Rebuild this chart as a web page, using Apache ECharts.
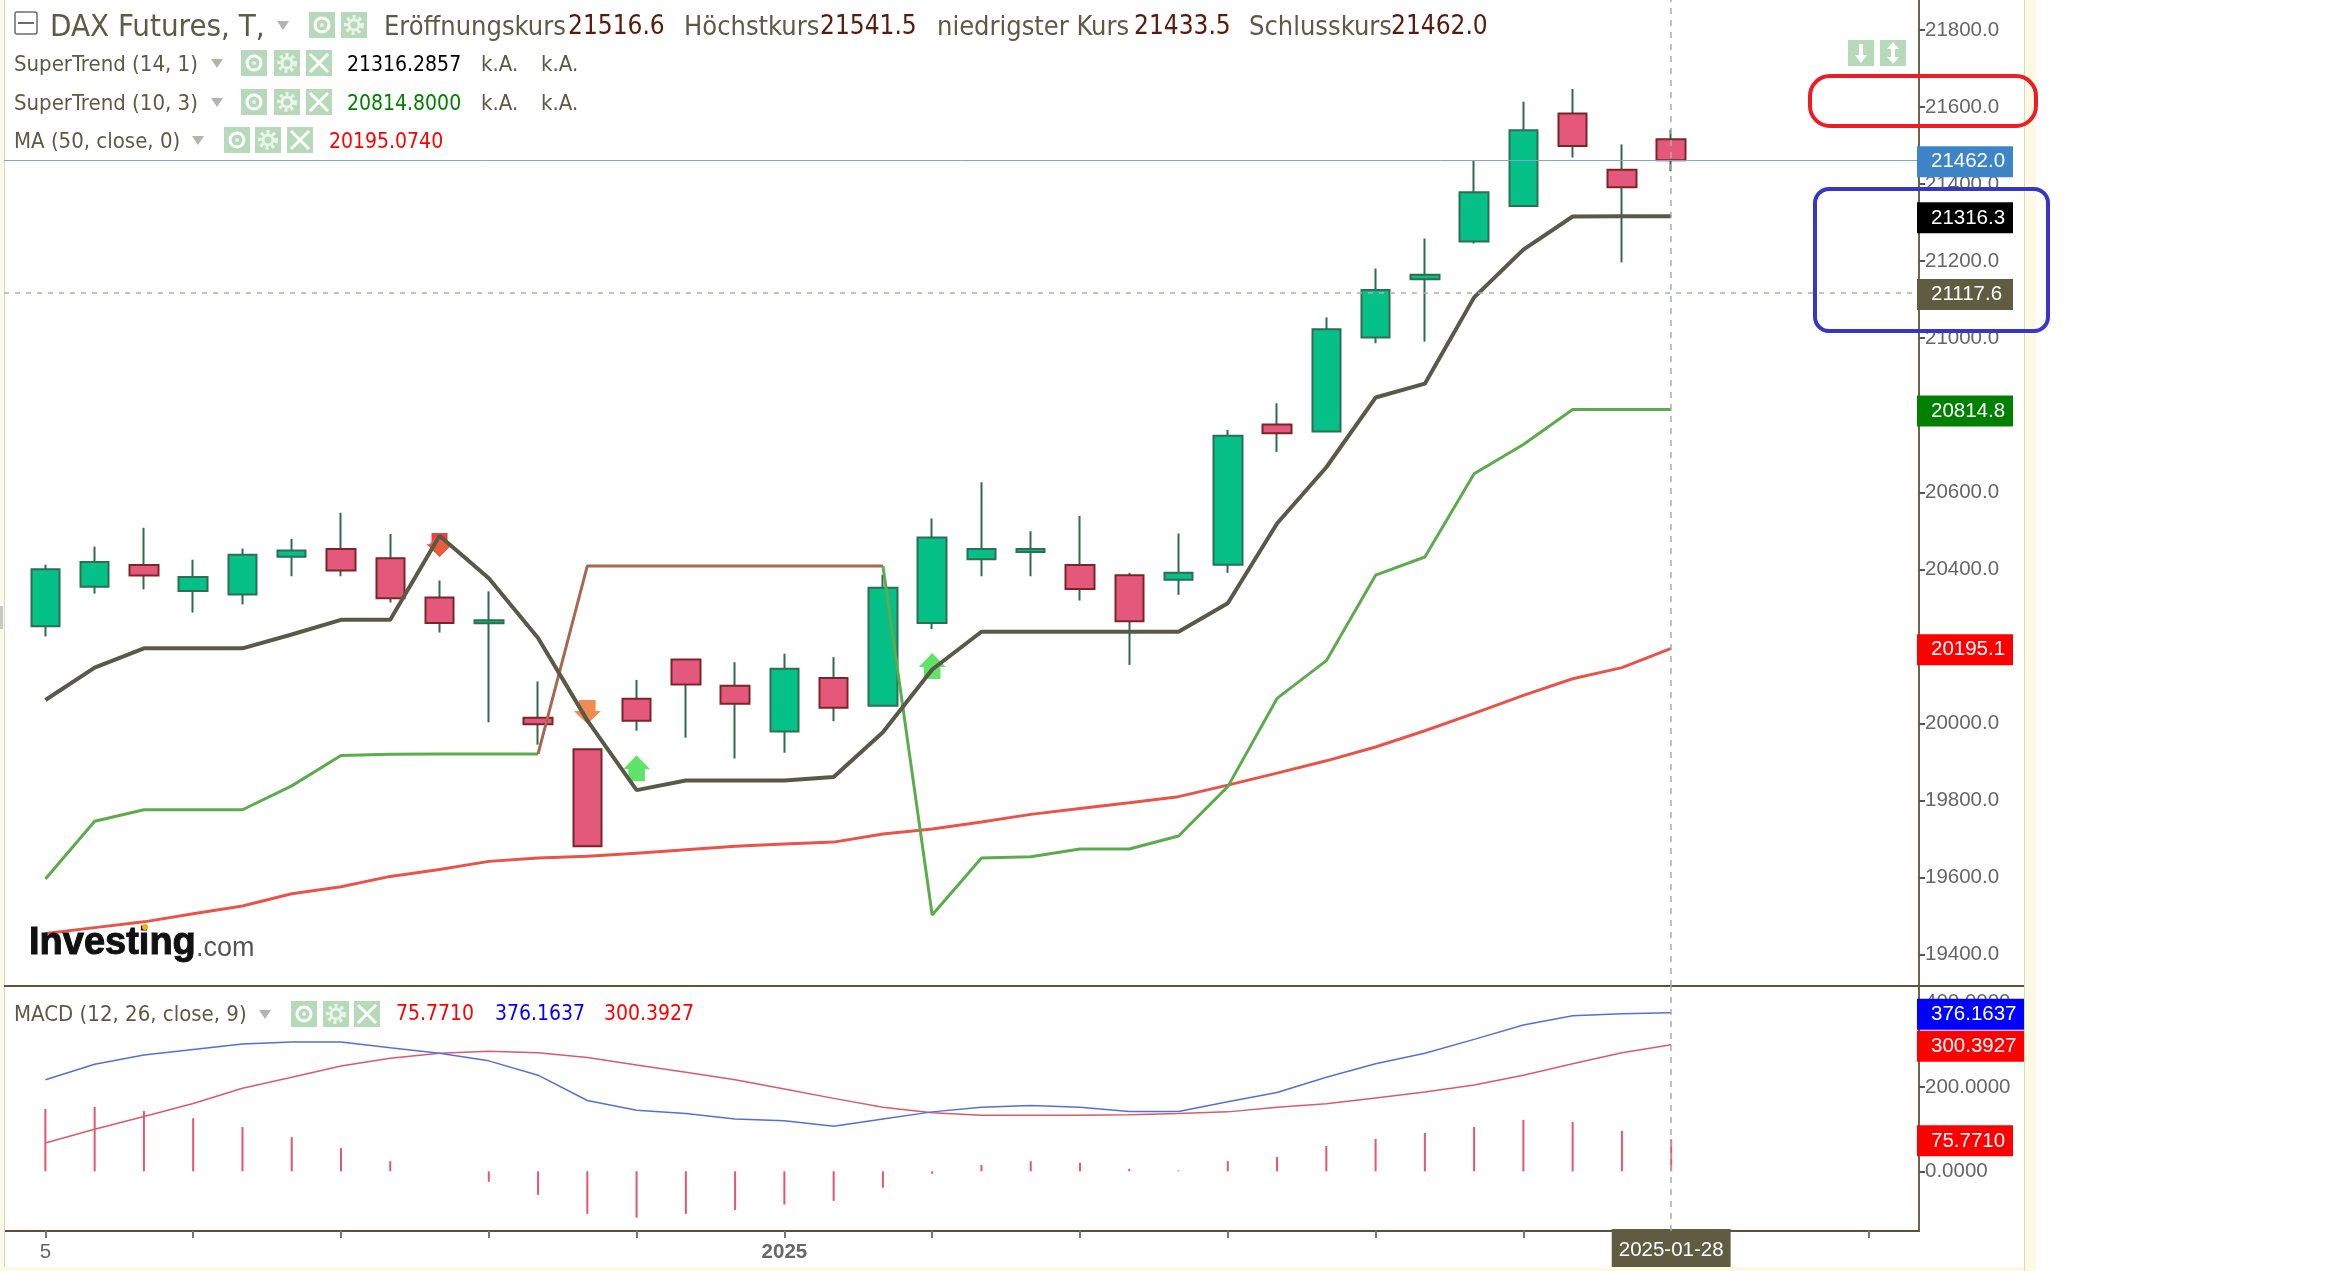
<!DOCTYPE html>
<html>
<head>
<meta charset="utf-8">
<title>DAX Futures</title>
<script src="https://cdn.jsdelivr.net/npm/echarts@6/dist/echarts.min.js"></script>
<style>
html, body { margin: 0; padding: 0; background: #fff; }
#chart { width: 2344px; height: 1271px; }
</style>
</head>
<body>
<div id="chart"></div>
<script>
// candles: open, close, low, high
var ohlc = [
    [20252, 20400, 20226, 20412], [20355, 20419, 20337, 20459], [20411, 20384, 20348, 20508],
    [20344, 20380, 20288, 20425], [20335, 20438, 20309, 20454], [20433, 20449, 20382, 20479],
    [20453, 20397, 20382, 20547], [20429, 20325, 20314, 20492], [20327, 20261, 20236, 20371],
    [20260, 20268, 20003, 20343], [20015, 19998, 19945, 20109], [19933, 19681, 19681, 19933],
    [20064, 20007, 19981, 20113], [20166, 20101, 19963, 20166], [20098, 20051, 19909, 20159],
    [19979, 20142, 19924, 20181], [20118, 20041, 20006, 20172], [20046, 20352, 20046, 20386],
    [20261, 20483, 20245, 20532], [20426, 20453, 20382, 20626], [20445, 20453, 20382, 20499],
    [20411, 20349, 20319, 20539], [20385, 20265, 20152, 20391], [20373, 20391, 20334, 20493],
    [20412, 20747, 20391, 20762], [20776, 20753, 20705, 20831], [20758, 21023, 20757, 21054],
    [21002, 21125, 20987, 21181], [21153, 21165, 20991, 21259], [21251, 21379, 21246, 21460],
    [21343, 21540, 21342, 21614], [21583, 21499, 21469, 21647], [21437, 21392, 21197, 21503],
    [21516.6, 21462, 21433.5, 21541.5]
];
var superTrend14 = [20061, 20145, 20195, 20195, 20195, 20231, 20269, 20269, 20487, 20377, 20222, 20008,
    19827, 19852, 19852, 19852, 19861, 19977, 20140, 20238, 20238, 20238, 20238, 20238,
    20312, 20519, 20665, 20846, 20882, 21106, 21230, 21316, 21316.3, 21316.3];
var superTrend10 = [19596, 19746, 19776, 19776, 19776, 19838, 19917, 19920, 19921, 19921, 19921, 20409,
    20409, 20409, 20409, 20409, 20409, 20409, 19503, 19651, 19654, 19674, 19674, 19708,
    19836, 20065, 20163, 20385, 20432, 20648, 20724, 20815, 20814.8, 20814.8];
var ma50 = [19455, 19470, 19485, 19506, 19526, 19558, 19576, 19603, 19621, 19642, 19651, 19655,
    19663, 19672, 19681, 19687, 19692, 19713, 19726, 19744, 19764, 19779, 19794, 19810,
    19840, 19871, 19903, 19939, 19981, 20026, 20073, 20116, 20145, 20195.1];
var macdLine = [217, 254, 276, 289, 302, 307, 307, 293, 280, 262, 228, 168, 145, 137, 124, 120, 107,
    124, 141, 152, 156, 152, 142, 142, 165, 187, 223, 255, 280, 313, 347, 369, 374, 376.16];
var signalLine = [67, 100, 130, 161, 197, 223, 250, 268, 280, 285, 281, 270, 252, 235, 217, 195, 173,
    152, 139, 133, 133, 133, 134, 137, 141, 152, 160, 174, 188, 205, 228, 255, 281, 300.39];
var histogram = [148, 153, 143, 126, 105, 81, 55, 24, 0, -25, -56, -101, -110, -101, -92, -79, -70,
    -39, -6, 15, 24, 20, 6, 2, 24, 34, 60, 77, 91, 105, 122, 117, 96, 75.77];

// signal markers
var arrowsRed = [[8, 20463]];
var arrowsOrange = [[11, 20030]];
var arrowsGreen = [[12, 19884], [18, 20149]];
var diamonds = [[8, 20463]];

// tick labels
var priceTicks = [19400, 19600, 19800, 20000, 20200, 20400, 20600, 20800, 21000, 21200, 21400, 21600, 21800];
var macdTicks = [0, 200, 400];
var dateTicks = [0, 3, 6, 9, 12, 15, 18, 21, 24, 27, 30, 33, 37];
var dateLabels = { 0: '5', 15: '2025', 33: '2025-01-28' };

// value tags on the axes
var lastPrice = 21462, crossPrice = 21117.6;
var priceTags = [lastPrice, 21316.3, crossPrice, 20814.8, 20195.1];
var priceTagColors = ['#3d85c6', '#000000', '#5f5c41', '#008000', '#ff0000'];
var macdTags = [376.1637, 300.3927, 75.771];
var macdTagColors = ['#0000ff', '#ff0000', '#ff0000'];

var FONT = '"DejaVu Sans Condensed", "DejaVu Sans", sans-serif';
var AXIS_FONT = '"Liberation Sans", sans-serif';
var INK = '#5d5a45';

function indexed(values) {
    return values.map(function (v, i) { return [i, v]; });
}

// SuperTrend (10, 3) is brown while the trend is down (candles 10 to 17)
var stGreenLeft = indexed(superTrend10).slice(0, 11);
var stBrown = indexed(superTrend10).slice(10, 18);
var stGreenRight = indexed(superTrend10).slice(17);

function tagRich(colors, width) {
    var rich = {};
    colors.forEach(function (c, i) {
        rich['t' + i] = { backgroundColor: c, color: '#fff', fontFamily: AXIS_FONT, fontSize: 20.5,
            lineHeight: 20, padding: [5, 10, 5, 14], width: width[i], align: 'left' };
    });
    return rich;
}

function lineSeries(name, data, color, width, xi, yi) {
    return { name: name, type: 'line', data: data, xAxisIndex: xi, yAxisIndex: yi, showSymbol: false, z: 4,
        lineStyle: { color: color, width: width }, itemStyle: { color: color } };
}

function markerSeries(name, data, path, w, h, color) {
    return { name: name, type: 'scatter', data: data, symbol: 'path://' + path, symbolSize: [w, h],
        itemStyle: { color: color, opacity: 0.9 }, z: 3.5, silent: true };
}

// ------------------------------
// header and decorations
// ------------------------------
var g = [];

function text(x, y, str, size, color, extra) {
    var style = { text: str, x: x, y: y + 2, fill: color, font: size + 'px ' + FONT, textVerticalAlign: 'middle' };
    for (var k in extra) { style[k] = extra[k]; }
    g.push({ type: 'text', z: 20, style: style });
}
function box(x, y, w, h, fill) {
    g.push({ type: 'rect', z: 1, shape: { x: x, y: y, width: w, height: h }, style: { fill: fill } });
}
function tri(x, y) {
    g.push({ type: 'polygon', z: 20, shape: { points: [[x - 6, y - 4], [x + 6, y - 4], [x, y + 5]] }, style: { fill: '#b4b4ac' } });
}
function icon(x, y, type) {
    var cx = x + 13, cy = y + 13, w = { stroke: '#fff', fill: 'none', lineWidth: 3 };
    g.push({ type: 'rect', z: 20, shape: { x: x, y: y, width: 26, height: 26 }, style: { fill: '#b6dab9' } });
    if (type === 'eye') {
        g.push({ type: 'circle', z: 21, shape: { cx: cx, cy: cy, r: 7 }, style: { stroke: '#fff', fill: 'none', lineWidth: 3 } });
        g.push({ type: 'circle', z: 21, shape: { cx: cx, cy: cy, r: 2 }, style: { fill: '#e8f4e8' } });
    } else if (type === 'gear') {
        g.push({ type: 'circle', z: 21, shape: { cx: cx, cy: cy, r: 8 }, style: { stroke: '#e9f4ea', fill: 'none', lineWidth: 4, lineDash: [3, 3] } });
        g.push({ type: 'circle', z: 21, shape: { cx: cx, cy: cy, r: 5 }, style: { stroke: '#e9f4ea', fill: 'none', lineWidth: 3 } });
    } else if (type === 'close') {
        g.push({ type: 'line', z: 21, shape: { x1: x + 4, y1: y + 4, x2: x + 22, y2: y + 22 }, style: w });
        g.push({ type: 'line', z: 21, shape: { x1: x + 22, y1: y + 4, x2: x + 4, y2: y + 22 }, style: w });
    } else if (type === 'down') {
        g.push({ type: 'polygon', z: 21, shape: { points: [[cx - 2, y + 4], [cx + 2, y + 4], [cx + 2, y + 15], [cx + 6, y + 15], [cx, y + 23], [cx - 6, y + 15], [cx - 2, y + 15]] }, style: { fill: '#fff' } });
    } else {
        g.push({ type: 'polygon', z: 21, shape: { points: [[cx, y + 2], [cx + 6, y + 9], [cx + 2, y + 9], [cx + 2, y + 17], [cx + 6, y + 17], [cx, y + 24], [cx - 6, y + 17], [cx - 2, y + 17], [cx - 2, y + 9], [cx - 6, y + 9]] }, style: { fill: '#fff' } });
    }
}

// page edges
box(0, 0, 4, 1271, '#fdfbe8');
box(4, 0, 1, 1271, '#c9dfc2');
box(0, 1267, 2025, 4, '#fdf9e3');
box(2025, 0, 11, 1271, '#fdf9e3');
box(2024, 0, 1, 1271, '#c9dfc2');
box(0, 606, 3, 23, '#c9c9c9');
box(4, 985, 2020, 2, '#5a5636');

// first row
g.push({ type: 'rect', z: 20, shape: { x: 15, y: 12, width: 22, height: 22, r: 2 }, style: { fill: 'none', stroke: '#6b6b6b', lineWidth: 1.5 } });
g.push({ type: 'line', z: 20, shape: { x1: 18, y1: 23, x2: 34, y2: 23 }, style: { stroke: '#6b6b6b', lineWidth: 2 } });
text(50, 25.5, 'DAX Futures, T,', 31, INK);
tri(283, 25);
icon(309, 12, 'eye'); icon(341, 12, 'gear');
var quote = [[384, 'Eröffnungskurs', 568, '21516.6'], [684, 'Höchstkurs', 820, '21541.5'],
    [937, 'niedrigster Kurs', 1134, '21433.5'], [1249, 'Schlusskurs', 1391, '21462.0']];
quote.forEach(function (q) {
    text(q[0], 25.5, q[1], 27, INK);
    text(q[2], 25.5, q[3], 26, '#5a1a0a');
});

// indicator rows
text(14, 63.5, 'SuperTrend (14, 1)', 22, INK); tri(217, 63);
icon(241, 50, 'eye'); icon(274, 50, 'gear'); icon(306, 50, 'close');
text(347, 63.5, '21316.2857', 21, '#000');
text(481, 63.5, 'k.A.', 22, INK); text(541, 63.5, 'k.A.', 22, INK);

text(14, 102.5, 'SuperTrend (10, 3)', 22, INK); tri(217, 102);
icon(241, 89, 'eye'); icon(274, 89, 'gear'); icon(306, 89, 'close');
text(347, 102.5, '20814.8000', 21, '#008000');
text(481, 102.5, 'k.A.', 22, INK); text(541, 102.5, 'k.A.', 22, INK);

text(14, 140.5, 'MA (50, close, 0)', 22, INK); tri(198, 140);
icon(224, 127, 'eye'); icon(255, 127, 'gear'); icon(287, 127, 'close');
text(329, 140.5, '20195.0740', 21, '#ff0000');

text(14, 1013, 'MACD (12, 26, close, 9)', 22, INK); tri(265, 1014);
icon(291, 1001, 'eye'); icon(323, 1001, 'gear'); icon(354, 1001, 'close');
text(396, 1013, '75.7710', 21, '#ff0000');
text(495, 1013, '376.1637', 21, '#0000ff');
text(604, 1013, '300.3927', 21, '#ff0000');

icon(1848, 40, 'down'); icon(1880, 40, 'updown');

// logo
text(29, 942, 'Investing', 38, '#111', { font: 'bold 38px "Liberation Sans", sans-serif', stroke: '#111', lineWidth: 1 });
text(196, 947, '.com', 27, '#555', { font: '27px "Liberation Sans", sans-serif' });
g.push({ type: 'circle', z: 21, shape: { cx: 145, cy: 927, r: 3 }, style: { fill: '#f0b400' } });

// hand drawn highlights
g.push({ type: 'rect', z: 30, shape: { x: 1810, y: 76, width: 226, height: 50, r: 20 }, style: { fill: 'none', stroke: '#ee1c25', lineWidth: 4 } });
g.push({ type: 'rect', z: 30, shape: { x: 1815, y: 189, width: 233, height: 142, r: 14 }, style: { fill: 'none', stroke: '#3636c8', lineWidth: 4 } });

// ------------------------------
// chart
// ------------------------------
var chart = echarts.init(document.getElementById('chart'));

var xMin = -0.84, xMax = 38.03;
var priceMin = 19318.5, priceMax = 21877.9;
var macdMin = -141.6, macdMax = 439.6;
var axisColor = '#6b6646';

var option = {
    animation: false,
    backgroundColor: '#fff',
    grid: [
        { left: 4, top: 0, width: 1915, height: 986 },
        { left: 4, top: 986, width: 1915, height: 245 }
    ],
    xAxis: [
        { type: 'value', gridIndex: 0, min: xMin, max: xMax, show: false, splitLine: { show: false } },
        {
            type: 'value', gridIndex: 1, min: xMin, max: xMax, splitLine: { show: false },
            axisLine: { onZero: false, lineStyle: { color: '#55533d', width: 2 } },
            axisTick: { length: 7, customValues: dateTicks, lineStyle: { color: '#777', width: 2 } },
            axisLabel: {
                customValues: Object.keys(dateLabels).map(Number),
                margin: -2,
                color: '#666',
                fontFamily: AXIS_FONT,
                fontSize: 20.5,
                formatter: function (v) {
                    return '{' + (v === 33 ? 'tag' : v === 15 ? 'year' : 'day') + '|' + dateLabels[v] + '}';
                },
                rich: {
                    day: { color: '#666', fontFamily: AXIS_FONT, fontSize: 20.5, padding: [13, 0, 0, 0] },
                    year: { color: '#666', fontFamily: AXIS_FONT, fontSize: 20.5, fontWeight: 'bold', padding: [13, 0, 0, 0] },
                    tag: { color: '#fff', fontFamily: AXIS_FONT, fontSize: 20.5, backgroundColor: '#5f5c41', padding: [11, 7, 6, 7] }
                }
            }
        }
    ],
    yAxis: [
        {
            type: 'value', gridIndex: 0, position: 'right', min: priceMin, max: priceMax, splitLine: { show: false },
            axisLine: { show: true, onZero: false, lineStyle: { color: axisColor, width: 2 } },
            axisTick: { show: true, length: 6, customValues: priceTicks, lineStyle: { color: '#555', width: 2 } },
            axisLabel: { customValues: priceTicks, margin: 6, padding: [4, 0, 0, 0], color: '#666', fontFamily: AXIS_FONT, fontSize: 20.5,
                formatter: function (v) { return v.toFixed(1); } }
        },
        {
            type: 'value', gridIndex: 0, position: 'right', min: priceMin, max: priceMax, splitLine: { show: false },
            axisLine: { show: false, onZero: false }, axisTick: { show: false }, z: 8,
            axisLabel: {
                customValues: priceTags, margin: -2, padding: [3, 0, 0, 0],
                formatter: function (v) { return '{t' + priceTags.indexOf(v) + '|' + v.toFixed(1) + '}'; },
                rich: tagRich(priceTagColors, [72, 72, 72, 72, 72])
            }
        },
        {
            type: 'value', gridIndex: 1, position: 'right', min: macdMin, max: macdMax, splitLine: { show: false },
            axisLine: { show: true, onZero: false, lineStyle: { color: axisColor, width: 2 } },
            axisTick: { show: true, length: 6, customValues: macdTicks, lineStyle: { color: '#555', width: 2 } },
            axisLabel: { customValues: macdTicks, margin: 6, padding: [5, 0, 0, 0], color: '#666', fontFamily: AXIS_FONT, fontSize: 20.5,
                formatter: function (v) { return v.toFixed(4); } }
        },
        {
            type: 'value', gridIndex: 1, position: 'right', min: macdMin, max: macdMax, splitLine: { show: false },
            axisLine: { show: false, onZero: false }, axisTick: { show: false }, z: 8,
            axisLabel: {
                customValues: macdTags, margin: -2, padding: [3, 0, 0, 0],
                formatter: function (v) { return '{t' + macdTags.indexOf(v) + '|' + v.toFixed(4) + '}'; },
                rich: tagRich(macdTagColors, [83, 83, 72])
            }
        }
    ],
    series: [
        // wicks are all dark green, bodies go on top
        {
            name: 'Wicks', type: 'candlestick', barWidth: 1, z: 2,
            data: ohlc.map(function (d, i) { return [i, d[0], d[1], d[2], d[3]]; }),
            itemStyle: { color: '#2f6b4f', color0: '#2f6b4f', borderColor: '#2f6b4f', borderColor0: '#2f6b4f', borderWidth: 2 }
        },
        {
            name: 'DAX Futures', type: 'candlestick', barWidth: 29, z: 3,
            data: ohlc.map(function (d, i) { return [i, d[0], d[1], Math.min(d[0], d[1]), Math.max(d[0], d[1])]; }),
            itemStyle: { color: '#05c087', color0: '#e4587c', borderColor: '#2e6e52', borderColor0: '#7a2626', borderWidth: 2 }
        },
        lineSeries('MA (50, close, 0)', indexed(ma50), '#e8544a', 3, 0, 0),
        lineSeries('SuperTrend (10, 3)', stGreenLeft, '#5cab4d', 3, 0, 0),
        lineSeries('SuperTrend (10, 3) down', stBrown, '#a8674f', 3, 0, 0),
        lineSeries('SuperTrend (10, 3) up', stGreenRight, '#5cab4d', 3, 0, 0),
        lineSeries('SuperTrend (14, 1)', indexed(superTrend14), '#5a5846', 4, 0, 0),
        markerSeries('Arrow red', arrowsRed, 'M5 0H21V12H26L13 26L0 12H5Z', 26, 24, '#ee2a2a'),
        markerSeries('Arrow orange', arrowsOrange, 'M5 0H21V12H26L13 26L0 12H5Z', 27, 24, '#ee8040'),
        markerSeries('Arrow green', arrowsGreen, 'M5 26H21V14H26L13 0L0 14H5Z', 27, 26, '#4fe05a'),
        {
            name: 'Signal', type: 'scatter', symbol: 'diamond', symbolSize: [22, 24], z: 3.6, silent: true,
            data: diamonds, itemStyle: { color: '#e8603c', opacity: 0.85 }
        },
        {
            name: 'Guides', type: 'line', data: [], xAxisIndex: 0, yAxisIndex: 0, z: 5, silent: true,
            markLine: {
                silent: true, symbol: 'none', label: { show: false }, animation: false,
                data: [
                    { yAxis: lastPrice, lineStyle: { color: '#7aa9d8', type: 'solid', width: 1 } },
                    { yAxis: crossPrice, lineStyle: { color: '#a9b79c', type: [5, 6], width: 1.5 } },
                    { xAxis: 33, lineStyle: { color: '#a9b0a8', type: [6, 6], width: 1.5 } }
                ]
            }
        },
        {
            name: 'MACD histogram', type: 'bar', data: indexed(histogram), xAxisIndex: 1, yAxisIndex: 2, barWidth: 2,
            itemStyle: { color: '#e2566e' }
        },
        lineSeries('MACD signal', indexed(signalLine), '#d95b6b', 1.5, 1, 2),
        lineSeries('MACD', indexed(macdLine), '#5470d6', 1.5, 1, 2),
        {
            name: 'Guide MACD', type: 'line', data: [], xAxisIndex: 1, yAxisIndex: 2, z: 5, silent: true,
            markLine: {
                silent: true, symbol: 'none', label: { show: false }, animation: false,
                data: [{ xAxis: 33, lineStyle: { color: '#a9b0a8', type: [6, 6], width: 1.5 } }]
            }
        }
    ],
    graphic: { elements: g }
};

chart.setOption(option);
</script>
</body>
</html>
